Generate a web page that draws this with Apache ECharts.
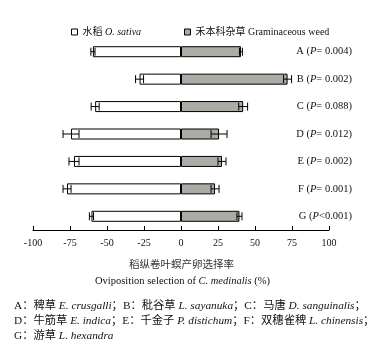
<!DOCTYPE html>
<html><head><meta charset="utf-8">
<script src="https://cdn.jsdelivr.net/npm/echarts@6/dist/echarts.min.js"></script>
<style>html,body{margin:0;padding:0;background:#fff}#c{width:385px;height:355px}</style>
</head><body><div id="c"></div>
<script>
const categories = ['A','B','C','D','E','F','G'];
const pLabels = ['= 0.004)','= 0.002)','= 0.088)','= 0.012)','= 0.002)','= 0.001)','<0.001)'];
const riceValues = [-59.5,-28,-58,-74.3,-72.3,-77,-60.5];
const riceErrors = [1.4,2.7,2.7,5.4,3.4,2.7,1.4];
const weedValues = [40.5,72,42,25.7,27.7,23,39.5];
const weedErrors = [1,2.7,3,5.4,2.7,2.7,1.7];
const xTicks = {min:-100,max:100,interval:25};

const SERIF = '"Liberation Serif","Noto Sans CJK SC"';
const chart = echarts.init(document.getElementById('c'));

function errRender(params, api){
  const v = api.value(0), c = api.value(1), e = api.value(2);
  const p1 = api.coord([v-e, c]), p2 = api.coord([v+e, c]);
  const h = 4;
  const st = {stroke:'#000', lineWidth:1};
  return {type:'group', children:[
    {type:'line', shape:{x1:p1[0],y1:p1[1],x2:p2[0],y2:p2[1]}, style:st},
    {type:'line', shape:{x1:p1[0],y1:p1[1]-h,x2:p1[0],y2:p1[1]+h}, style:st},
    {type:'line', shape:{x1:p2[0],y1:p2[1]-h,x2:p2[0],y2:p2[1]+h}, style:st}
  ]};
}

const richBase = {
  i:{fontFamily:SERIF,fontStyle:'italic',fontSize:10.5,color:'#111'},
  n:{fontFamily:SERIF,fontSize:10.5,color:'#111'}
};

function footLine(y, parts){
  return {type:'text', left:14, top:y-7, style:{
    text: parts.map(p => p[0] ? '{i|'+p[1]+'}' : '{n|'+p[1]+'}').join(''),
    rich:{
      i:{fontFamily:SERIF,fontStyle:'italic',fontSize:11.3,fill:'#111'},
      n:{fontFamily:SERIF,fontSize:11.3,fill:'#111'}
    }
  }};
}

chart.setOption({
  animation:false,
  grid:{left:33,right:56,top:38,bottom:125},
  legend:[
    {left:66,top:22,itemWidth:6,itemHeight:6,icon:'rect',itemGap:5,
     data:['rice'],
     itemStyle:{borderColor:'#000',borderWidth:1},
     formatter:()=>'{n|水稻 }{i|O. sativa}',
     textStyle:{rich:{n:{fontFamily:SERIF,fontSize:10,color:'#111'},i:{fontFamily:SERIF,fontStyle:'italic',fontSize:10,color:'#111'}}}},
    {left:179,top:22,itemWidth:6,itemHeight:6,icon:'rect',itemGap:5,
     data:['weed'],
     itemStyle:{borderColor:'#000',borderWidth:1},
     formatter:()=>'{n|禾本科杂草 Graminaceous weed}',
     textStyle:{rich:{n:{fontFamily:SERIF,fontSize:10,color:'#111'}}}}
  ],
  xAxis:{type:'value',min:xTicks.min,max:xTicks.max,interval:xTicks.interval,
    axisLine:{show:true,lineStyle:{color:'#000',width:1}},
    axisTick:{show:true,inside:true,length:4,lineStyle:{color:'#000'}},
    splitLine:{show:false},
    axisLabel:{fontFamily:SERIF,fontSize:10,color:'#111',margin:8}
  },
  yAxis:{type:'category',data:categories,inverse:true,position:'right',
    axisLine:{show:false},axisTick:{show:false},
    axisLabel:{align:'right',margin:23,
      formatter:(v,idx)=>'{n|'+v+' (}{i|P}{n|'+pLabels[idx]+'}',
      rich:richBase}
  },
  series:[
    {name:'rice',type:'bar',data:riceValues,barWidth:11,barGap:'-100%',
     itemStyle:{color:'#fff',borderColor:'#000',borderWidth:1}},
    {name:'weed',type:'bar',data:weedValues,barWidth:11,
     itemStyle:{color:'#adaba5',borderColor:'#000',borderWidth:1}},
    {type:'custom',renderItem:errRender,z:10,
     encode:{x:0,y:1},
     data:riceValues.map((v,i)=>[v,i,riceErrors[i]])},
    {type:'custom',renderItem:errRender,z:10,
     encode:{x:0,y:1},
     data:weedValues.map((v,i)=>[v,i,weedErrors[i]])}
  ],
  graphic:[
    {type:'text',left:129,top:260,style:{text:'稻纵卷叶螟产卵选择率',fontFamily:SERIF,fontSize:10.5,fill:'#333'}},
    {type:'text',left:95,top:276,style:{
      text:'{n|Oviposition selection of }{i|C. medinalis}{n| (%)}',
      rich:{n:{fontFamily:SERIF,fontSize:10.5,fill:'#111'},i:{fontFamily:SERIF,fontStyle:'italic',fontSize:10.5,fill:'#111'}}}},
    footLine(307,[[0,'A：稗草 '],[1,'E. crusgalli'],[0,'；B：秕谷草 '],[1,'L. sayanuka'],[0,'；C：马唐 '],[1,'D. sanguinalis'],[0,'；']]),
    footLine(322,[[0,'D：牛筋草 '],[1,'E. indica'],[0,'；E：千金子 '],[1,'P. distichum'],[0,'；F：双穗雀稗 '],[1,'L. chinensis'],[0,'；']]),
    footLine(337,[[0,'G：游草 '],[1,'L. hexandra']])
  ]
});
</script>
</body></html>
